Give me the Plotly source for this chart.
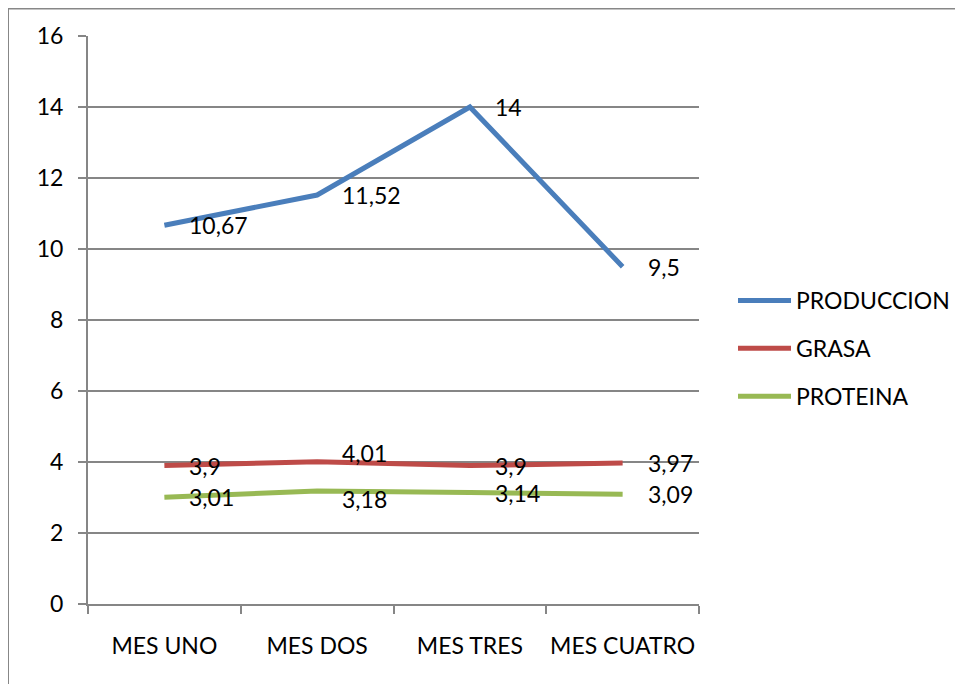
import plotly.graph_objects as go

categories = ["MES UNO", "MES DOS", "MES TRES", "MES CUATRO"]
produccion = [10.67, 11.52, 14, 9.5]
grasa = [3.9, 4.01, 3.9, 3.97]
proteina = [3.01, 3.18, 3.14, 3.09]
label_prod = ["10,67", "11,52", "14", "9,5"]
label_grasa = ["3,9", "4,01", "3,9", "3,97"]
label_prot = ["3,01", "3,18", "3,14", "3,09"]
y_ticks = [0, 2, 4, 6, 8, 10, 12, 14, 16]

FONT = "Lato, Open Sans, sans-serif"
FS = 23
GRID = "#868686"

series = [
    ("PRODUCCION", produccion, label_prod, "#4A7EBB"),
    ("GRASA", grasa, label_grasa, "#BE4B48"),
    ("PROTEINA", proteina, label_prot, "#98B954"),
]
# small vertical nudges of crowded labels (pixels), as in the original
label_nudge = {("GRASA", 1): 9, ("PROTEINA", 1): -8}

fig = go.Figure()
annotations = []
for name, vals, labs, color in series:
    fig.add_trace(go.Scatter(
        x=categories, y=vals, mode="lines", name=name, legendgroup=name,
        line=dict(color=color, width=5),
    ))
    for i, (c, v, t) in enumerate(zip(categories, vals, labs)):
        annotations.append(dict(
            x=c, y=v, xref="x", yref="y", text=t, showarrow=False,
            xanchor="left", yanchor="middle", xshift=23,
            yshift=label_nudge.get((name, i), 0),
            font=dict(family=FONT, size=FS, color="#000000"),
        ))

# the page body adds an 8px offset; the figure is sized to compensate
OFF = 8
W, H = 963 - OFF, 684 - OFF
L, R, T, B = 88 - OFF, 963 - 699, 36 - OFF, 684 - 604
pw, ph = W - L - R, H - T - B

fig.update_layout(
    width=W, height=H,
    margin=dict(l=L, r=R, t=T, b=B, autoexpand=False),
    paper_bgcolor="white", plot_bgcolor="white",
    font=dict(family=FONT, size=FS, color="#000000"),
    showlegend=True,
    legend=dict(
        x=(733 - OFF - L) / pw, y=1 - (279 - OFF - T) / ph, xanchor="left", yanchor="top",
        font=dict(family=FONT, size=FS), tracegroupgap=15, itemwidth=53,
        bgcolor="rgba(0,0,0,0)",
    ),
    annotations=annotations,
    shapes=[dict(
        type="rect", xref="paper", yref="paper",
        x0=(0 - L) / pw, x1=(975 - L) / pw,
        y0=1 - (700 - T) / ph, y1=1 + (T - 0.5) / ph,
        line=dict(color="#878787", width=2), layer="below",
    )],
    xaxis=dict(
        type="category", range=[-0.5, 3.5],
        showline=True, linecolor=GRID, linewidth=2,
        ticks="outside", tickson="boundaries", ticklen=8, tickcolor=GRID, tickwidth=2,
        showgrid=False, zeroline=False, tickangle=0, automargin=False,
        tickfont=dict(family=FONT, size=FS),
        ticklabelstandoff=20,
    ),
    yaxis=dict(
        range=[0, 16], tickvals=y_ticks, ticktext=[str(v) for v in y_ticks],
        showline=True, linecolor=GRID, linewidth=2,
        ticks="outside", ticklen=8, tickcolor=GRID, tickwidth=2,
        showgrid=True, gridcolor=GRID, gridwidth=2, zeroline=False, automargin=False,
        tickfont=dict(family=FONT, size=FS),
        ticklabelstandoff=10,
    ),
)

fig.write_html("out.html")
